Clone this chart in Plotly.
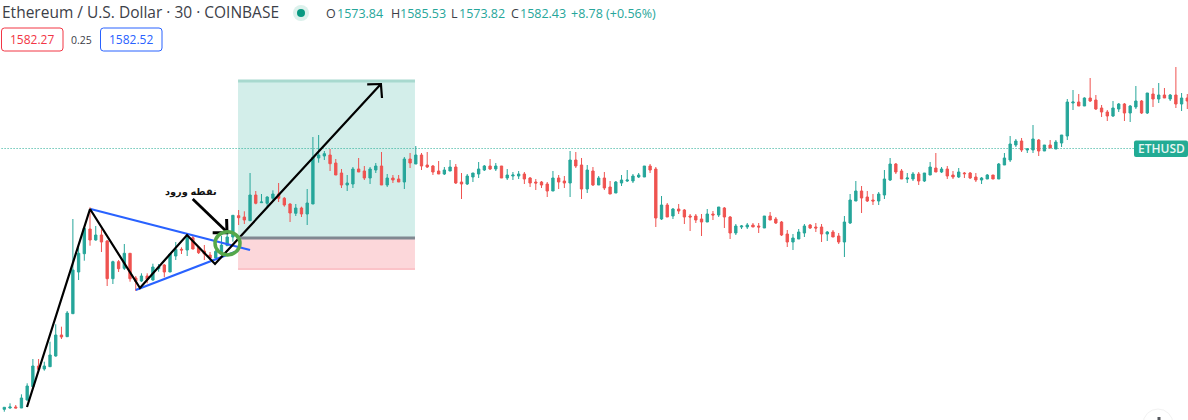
import plotly.graph_objects as go

W, H = 1188, 420
STEP, X0 = 5.715, 4.3

opens = [1410.7,1412,1413,1412,1420,1433.3,1454,1451,1453.3,1464,1485,1483.3,1506.3,1548,1566.3,1591,1580,1585,1579,1541.3,
1558.3,1551.7,1566.7,1542,1539,1544,1540,1551.3,1555,1548,1564,1570.7,1570,1582.3,1572.7,1569,1565,1562,1568,1574.3,
1583,1604.3,1603,1599.3,1625,1617.3,1616.7,1621.7,1626,1621.7,1616,1606.7,1612,1606,1616,1662,1664,1665,1657,1647,
1635,1636,1651,1649,1642,1650,1654,1635,1642,1641,1638,1661,1656,1665,1655,1654,1649,1646,1649,1653,
1638,1636,1643,1646,1650,1654,1651,1654,1642,1644,1644,1646,1642,1638,1638,1636,1629,1642,1639,1637,
1660,1655,1631,1649,1635,1642,1633,1627,1637,1639,1639,1643,1643,1654,1651,1601,1615,1604,1611,1610,
1604,1604,1601,1598,1606,1605,1612,1603,1587,1593,1593,1595,1594,1592,1604,1601,1598,1586,1578,1581,
1587,1595,1593,1593,1586,1588,1584,1578,1597,1619,1629,1623,1620,1619,1625,1640,1656,1649,1641,1641,
1646,1639,1645,1652,1648,1651,1645,1643,1647,1647,1643,1640,1641,1645,1641,1655,1660,1675,1679,1670,
1670,1680,1669,1675,1671,1677,1684,1717,1718,1714,1722,1720,1712,1708,1704,1711,1716,1707,1713,1719,
1707,1726,1721,1725,1721,1725,1716,1722]
highs = [1412.7,1416.7,1415,1425.7,1436.7,1461,1461,1458.3,1478.3,1495.7,1493.3,1509,1601,1572.7,1593.3,1612.7,1594,1590.7,1580,1559.3,
1560,1576,1566.7,1544,1546.7,1546.7,1556.3,1556,1556,1566,1578,1572.7,1585,1585,1574,1575,1568,1570,1584,1590.7,
1604.7,1610,1608.7,1647,1629,1626,1623.7,1629.7,1637,1623,1616.7,1616,1613.3,1631,1683,1685,1669,1671,1661,1651,
1645,1653,1662,1654,1653,1657,1668,1646,1645,1645,1663,1667,1674,1667,1668,1655,1659,1653,1660,1656,
1647,1646,1647,1658,1655,1661,1657,1654,1651,1648,1649,1648,1643,1641,1639,1638,1649,1645,1644,1669,
1668,1662,1655,1653,1644,1648,1639,1639,1645,1650,1646,1647,1654,1656,1653,1624,1617,1612,1616,1611,
1606,1606,1606,1611,1609,1613,1613,1604,1596,1595,1597,1597,1597,1604,1608,1603,1599,1590,1586,1591,
1596,1596,1597,1596,1589,1590,1587,1604,1626,1639,1634,1629,1626,1628,1650,1662,1657,1651,1647,1648,
1648,1647,1658,1667,1653,1654,1649,1652,1648,1648,1647,1643,1646,1645,1657,1667,1684,1681,1682,1672,
1695,1681,1675,1680,1680,1685,1721,1730,1726,1722.7,1742,1725,1715,1710,1719,1717,1717,1715,1734,1720,
1727,1732,1737,1732,1726,1753,1727,1726]
lows = [1408.3,1411.3,1412,1412,1419.3,1432.7,1448.3,1449.3,1453.3,1463.3,1481,1483.3,1506.3,1540,1559.3,1574.3,1579.3,1568,1534,1536,
1548,1550,1538.3,1529,1538,1536.7,1539.3,1548.3,1542.7,1548,1560,1566,1564,1570.7,1566,1560,1560.7,1562,1568,1574.3,
1578.3,1595,1596,1599.3,1615.7,1617.3,1612.7,1619.3,1618,1613.3,1598,1604,1603,1595,1616,1657.3,1660,1649,1645,1632,
1629,1632,1648,1640,1636,1647,1635,1633,1637,1638,1631,1652,1656,1650,1652,1645,1646,1645,1649,1636,
1621,1635,1638,1642,1649,1650,1649,1642,1640,1640,1641,1636,1633,1630,1632,1623,1629,1631,1632,1623,
1652,1621,1627,1634,1635,1630,1626,1627,1634,1638,1637,1642,1643,1647,1593,1600,1603,1601,1606,1596,
1589,1597,1584,1598,1600,1603,1592,1581,1585,1591,1591,1593,1587,1592,1600,1596,1584,1573,1570,1581,
1583,1591,1588,1578,1579,1583,1576,1563,1596,1619,1607,1618,1615,1615,1621,1639,1646,1641,1637,1639,
1635,1638,1645,1648,1647,1641,1641,1642,1642,1641,1638,1636,1641,1641,1641,1655,1658,1673,1668,1667,
1667,1664,1669,1672,1671,1673,1680,1710,1714,1714,1718,1710,1703,1699,1703,1708,1699,1698,1711,1706,
1706,1713,1717,1722,1719,1712,1709,1711]
closes = [1412.7,1413,1412,1422,1434,1454,1450.7,1454,1465,1485,1483,1507,1550,1566.7,1591.7,1580,1585,1578,1541.3,1558.3,
1551.3,1566.7,1541.3,1538.7,1544,1540.7,1553,1553,1548,1566,1570.7,1570,1582.3,1571,1567.3,1566,1562,1568.7,1575,1583,
1604.7,1602.3,1600,1625,1616.7,1618,1623,1626,1621.7,1615,1607,1612,1606,1617,1662.7,1665,1666.3,1656.3,1645,1635,
1637,1651,1648,1642,1651,1654,1635,1642,1640,1638,1661,1657,1665,1654,1653,1648,1646,1650,1653,1637,
1636,1644,1647,1651,1654,1651,1654,1642,1645,1645,1646,1641,1637,1637,1635,1629,1642,1638,1637,1660,
1654,1631,1650,1635,1642,1632,1626,1638,1640,1640,1644,1645,1654,1650,1602,1615,1603,1611,1609,1603,
1603,1600,1598,1606,1605,1613,1603,1587,1594,1594,1595,1593,1593,1604,1600,1597,1585,1578,1582,1588,
1594,1592,1592,1586,1588,1583,1578,1598,1620,1629,1622,1619,1619,1626,1641,1656,1648,1641,1642,1646,
1639,1647,1653,1648,1651,1644,1643,1648,1646.3,1642,1640,1642,1645,1641,1656,1662,1676,1679,1670,1671,
1681,1669,1675,1672,1678,1685,1718,1718,1714,1722,1719,1711,1708,1704,1712,1716,1707,1714,1719,1707,
1727,1721,1725,1722,1725,1716,1722,1719]
indices = list(range(len(opens)))

zigzag_i = [3.97, 15.0, 23.74, 31.97, 36.87, 65.9]
zigzag_p = [1413, 1611, 1532, 1585, 1556, 1736]
zig_head_i = [63.5, 65.9, 66.09]
zig_head_p = [1735.7, 1736, 1722]
upper_i = [15.1, 43.0]
upper_p = [1611, 1570]
lower_i = [23.0, 40.9]
lower_p = [1530, 1569.3]
entry_i = [32.97, 38.97]
entry_p = [1621, 1588]
entry_head_i = [36.46, 38.97, 38.9]
entry_head_p = [1587.3, 1587.3, 1601]

pos_left, pos_right = 40.9, 71.86
target_p, entry_price, stop_p = 1739, 1582, 1551
last_line_p = 1671.5

UP, DOWN = "#26a69a", "#ef5350"
TEAL = "#22ab94"
RED, BLUE = "#f23645", "#2962ff"
FONT = "Open Sans, sans-serif"

fig = go.Figure()
fig.add_trace(go.Candlestick(
    x=indices, open=opens, high=highs, low=lows, close=closes,
    increasing=dict(line=dict(color=UP, width=1), fillcolor=UP),
    decreasing=dict(line=dict(color=DOWN, width=1), fillcolor=DOWN),
    whiskerwidth=0, showlegend=False, hoverinfo="skip"))


def add_line(xs, ys, color, width):
    fig.add_trace(go.Scatter(x=xs, y=ys, mode="lines", showlegend=False, hoverinfo="skip",
                             line=dict(color=color, width=width)))


add_line(upper_i, upper_p, BLUE, 2.2)
add_line(lower_i, lower_p, BLUE, 2.2)
add_line(zigzag_i, zigzag_p, "#000000", 2.2)
add_line(zig_head_i, zig_head_p, "#000000", 2.2)
add_line(entry_i, entry_p, "#000000", 2.8)
add_line(entry_head_i, entry_head_p, "#000000", 3)


def rrect(x0, y0, x1, y1, r):
    fx = lambda v: v / W
    fy = lambda v: 1 - v / H
    return (f"M {fx(x0 + r)} {fy(y0)} L {fx(x1 - r)} {fy(y0)} Q {fx(x1)} {fy(y0)} {fx(x1)} {fy(y0 + r)} "
            f"L {fx(x1)} {fy(y1 - r)} Q {fx(x1)} {fy(y1)} {fx(x1 - r)} {fy(y1)} "
            f"L {fx(x0 + r)} {fy(y1)} Q {fx(x0)} {fy(y1)} {fx(x0)} {fy(y1 - r)} "
            f"L {fx(x0)} {fy(y0 + r)} Q {fx(x0)} {fy(y0)} {fx(x0 + r)} {fy(y0)} Z")


shapes = [
    dict(type="rect", x0=pos_left, x1=pos_right, y0=entry_price, y1=target_p, layer="below",
         fillcolor="rgba(34,171,148,0.2)", line_width=0),
    dict(type="rect", x0=pos_left, x1=pos_right, y0=stop_p, y1=entry_price, layer="below",
         fillcolor="rgba(242,54,69,0.2)", line_width=0),
    dict(type="line", x0=pos_left, x1=pos_right, y0=target_p, y1=target_p, layer="below",
         line=dict(color="#a8d9cf", width=3)),
    dict(type="line", x0=pos_left, x1=pos_right, y0=stop_p, y1=stop_p, layer="below",
         line=dict(color="#fbc3c8", width=2)),
    dict(type="line", x0=pos_left, x1=pos_right, y0=entry_price, y1=entry_price,
         line=dict(color="#808891", width=3)),
    dict(type="line", x0=-1, x1=197.6, y0=last_line_p, y1=last_line_p, layer="below",
         line=dict(color=TEAL, width=1, dash="1px,2px")),
    dict(type="circle", x0=36.87, x1=41.24, y0=1565, y1=1588.3,
         line=dict(color="#55a84a", width=3.5), fillcolor="rgba(0,0,0,0)"),
    dict(type="path", xref="paper", yref="paper", path=rrect(1134, 140.5, 1188, 157, 2),
         fillcolor=TEAL, line_width=0),
    dict(type="path", xref="paper", yref="paper", path=rrect(1.5, 28, 63, 51, 3),
         fillcolor="white", line=dict(color=RED, width=1)),
    dict(type="path", xref="paper", yref="paper", path=rrect(100.5, 28, 162, 51, 3),
         fillcolor="white", line=dict(color=BLUE, width=1)),
    dict(type="circle", xref="paper", yref="paper", x0=293 / W, x1=309 / W, y0=1 - 21 / H, y1=1 - 5 / H,
         fillcolor="#dcf1ec", line_width=0),
    dict(type="circle", xref="paper", yref="paper", x0=297 / W, x1=305 / W, y0=1 - 17 / H, y1=1 - 9 / H,
         fillcolor="#089981", line_width=0),
    dict(type="circle", xref="paper", yref="paper", x0=1143 / W, x1=1173 / W, y0=1 - 439 / H, y1=1 - 409 / H,
         fillcolor="white", line=dict(color="#f2f2f2", width=1)),
    dict(type="rect", xref="paper", yref="paper", x0=1157.5 / W, x1=1160.5 / W, y0=1 - 420 / H, y1=1 - 417 / H,
         fillcolor="#55585e", line_width=0),
]


def label(px, py, text, color, size=13, anchor="left", weight=None):
    fig.add_annotation(xref="paper", yref="paper", x=px / W, y=1 - py / H, text=text, showarrow=False,
                       xanchor=anchor, yanchor="middle", align=anchor,
                       font=dict(family=FONT, size=size, color=color, weight=weight),
                       borderpad=0, borderwidth=0)


INK = "#3c4048"
label(2, 12, "Ethereum / U.S. Dollar · 30 · COINBASE", INK, 15.5)
for px, t, c in [(326, "O", INK), (336.5, "1573.84", UP), (391, "H", INK), (400, "1585.53", UP),
                 (451, "L", INK), (459, "1573.82", UP), (511, "C", INK), (520, "1582.43", UP),
                 (571, "+8.78 (+0.56%)", UP)]:
    label(px, 14, t, c, 12.5)
label(32, 39.5, "1582.27", RED, 12, "center")
label(81, 39.5, "0.25", INK, 10.5, "center")
label(131, 39.5, "1582.52", BLUE, 12, "center")
label(1161, 148.5, "ETHUSD", "#e8f6f3", 12, "center", 600)
fig.add_annotation(x=32.75, y=1629, text="نقطه ورود", showarrow=False,
                   font=dict(family="Noto Sans, DejaVu Sans, sans-serif", size=9.8, color="#111111", weight=700))

fig.update_layout(
    width=W, height=H, margin=dict(l=0, r=0, t=0, b=0), paper_bgcolor="white", plot_bgcolor="white",
    shapes=shapes, showlegend=False, dragmode=False, boxgap=0.42,
    xaxis=dict(range=[-X0 / STEP, (W - X0) / STEP], visible=False, rangeslider=dict(visible=False), fixedrange=True),
    yaxis=dict(range=[1400, 1820], visible=False, fixedrange=True),
)
fig.write_html("out.html", config=dict(displayModeBar=False),
               post_script="document.body.style.margin='0';window.dispatchEvent(new Event('resize'));")
